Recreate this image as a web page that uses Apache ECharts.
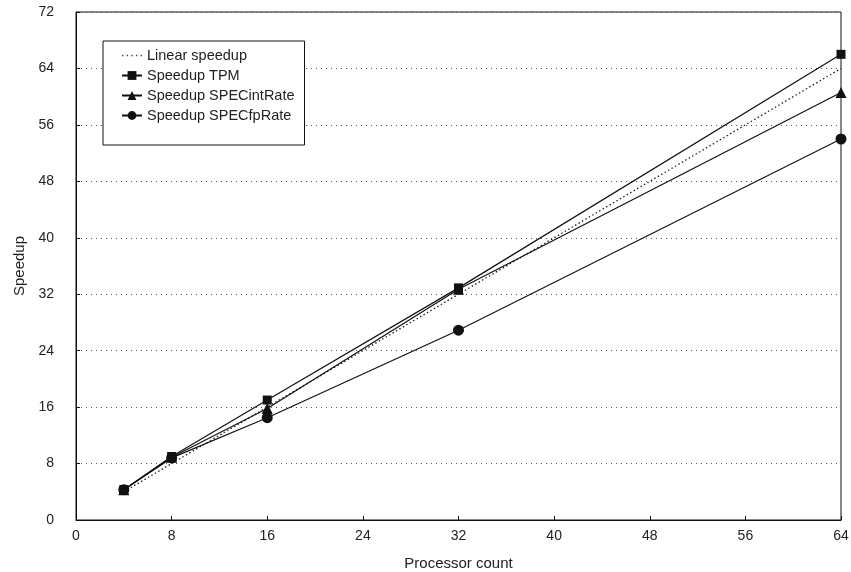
<!DOCTYPE html>
<html><head><meta charset="utf-8">
<script src="https://cdn.jsdelivr.net/npm/echarts@6/dist/echarts.min.js"></script>
<style>html,body{margin:0;padding:0;background:#fff}#c{width:851px;height:572px}</style>
</head><body><div id="c"></div>
<script>
const processors = [4, 8, 16, 32, 64];
const linearSpeedup = [4, 8, 16, 32, 64];
const speedupTPM = [4.3, 9.0, 17.0, 32.9, 66.0];
const speedupSPECint = [4.3, 8.9, 15.8, 32.7, 60.6];
const speedupSPECfp = [4.3, 8.8, 14.5, 26.9, 54.0];
const seriesNames = ['Linear speedup', 'Speedup TPM', 'Speedup SPECintRate', 'Speedup SPECfpRate'];

const pairs = (ys) => processors.map((x, i) => [x, ys[i]]);
const font = 'Liberation Sans, Arial, sans-serif';
const dottedIcon = 'path://M0,0h1.5v1.5h-1.5z M5,0h1.5v1.5h-1.5z M10,0h1.5v1.5h-1.5z M15,0h1.5v1.5h-1.5z M20,0h1.5v1.5h-1.5z';
const chart = echarts.init(document.getElementById('c'));
chart.setOption({
  animation: false,
  backgroundColor: '#fff',
  textStyle: {fontFamily: font},
  grid: {left: 76, right: 10, top: 12, bottom: 52, show: true, borderColor: '#111', borderWidth: 1,
         containLabel: false, outerBoundsMode: 'none'},
  legend: {
    orient: 'vertical', left: 103, top: 41,
    backgroundColor: '#fff', borderColor: '#111', borderWidth: 1,
    padding: [7, 10, 22, 18], itemGap: 5, itemWidth: 20, itemHeight: 11,
    textStyle: {fontFamily: font, fontSize: 14.5, color: '#222'},
    data: [
      {name: seriesNames[0], icon: dottedIcon},
      seriesNames[1], seriesNames[2], seriesNames[3]
    ],
    z: 10
  },
  xAxis: {
    type: 'value', min: 0, max: 64, interval: 8,
    name: 'Processor count', nameLocation: 'middle', nameGap: 36,
    nameTextStyle: {fontSize: 15, color: '#222'},
    axisLine: {lineStyle: {color: '#111'}},
    axisTick: {inside: true, length: 4, lineStyle: {color: '#111'}},
    axisLabel: {fontSize: 14, color: '#222', margin: 9},
    splitLine: {show: false}
  },
  yAxis: {
    type: 'value', min: 0, max: 72, interval: 8,
    name: 'Speedup', nameLocation: 'middle', nameGap: 49, nameRotate: 90,
    nameTextStyle: {fontSize: 15, color: '#222'},
    axisLine: {show: true, lineStyle: {color: '#111'}},
    axisTick: {show: true, inside: true, length: 4, lineStyle: {color: '#111'}},
    axisLabel: {fontSize: 14, color: '#222', margin: 22},
    splitLine: {show: true, lineStyle: {color: '#555', type: [1, 4], width: 1}}
  },
  series: [
    {name: seriesNames[0], type: 'line', data: pairs(linearSpeedup), showSymbol: false, symbol: 'none',
     lineStyle: {color: '#222', width: 1.3, type: [1.5, 2.5]}, itemStyle: {color: '#444'}},
    {name: seriesNames[1], type: 'line', data: pairs(speedupTPM), symbol: 'rect', symbolSize: 9,
     lineStyle: {color: '#111', width: 1.2}, itemStyle: {color: '#111'}},
    {name: seriesNames[2], type: 'line', data: pairs(speedupSPECint), symbol: 'triangle', symbolSize: 11,
     lineStyle: {color: '#111', width: 1.2}, itemStyle: {color: '#111'}},
    {name: seriesNames[3], type: 'line', data: pairs(speedupSPECfp), symbol: 'circle', symbolSize: 11,
     lineStyle: {color: '#111', width: 1.2}, itemStyle: {color: '#111'}}
  ]
});
</script></body></html>
